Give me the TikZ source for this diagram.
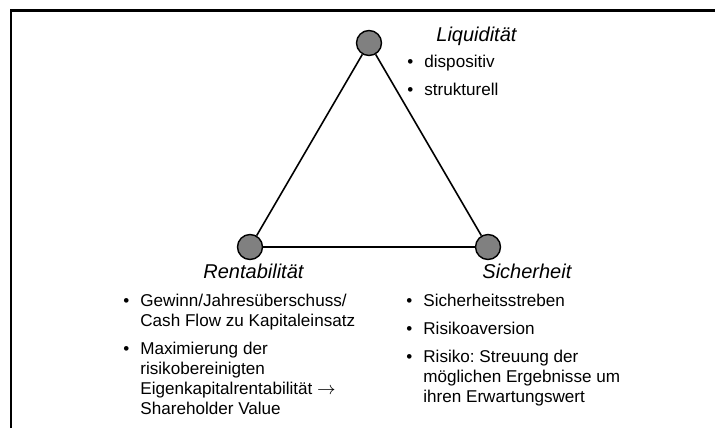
\documentclass[tikz,border=0pt]{standalone}
\usepackage{fontspec}
\setmainfont{Liberation Sans}
\usepackage{tikz}
\frenchspacing

\tikzset{
  corner/.style={circle, draw=black, fill=black!50, line width=0.7pt,
    minimum size=12.5pt, inner sep=0pt},
  side/.style={line width=0.8pt},
  heading/.style={font=\itshape, anchor=base west, inner sep=0pt},
  points/.style={anchor=base west, inner sep=0pt, align=left},
}

\begin{document}
\begin{tikzpicture}[x=0.5pt, y=-0.5pt, font=\fontsize{8.55pt}{10pt}\selectfont]
    \useasboundingbox (0,0) rectangle (715,428);

    % Frame (open to the right and bottom)
    \draw[line width=1.1pt] (11,428) -- (11,10.5) -- (715,10.5);

    % Triangle of goals
    \node[corner] (liq) at (369,43) {};
    \node[corner] (ren) at (250,247) {};
    \node[corner] (sich) at (488,247) {};
    \draw[side] (liq) -- (ren) -- (sich) -- (liq);

    % Headings
    \node[heading] (liqtitle) at (436,41) {Liquidität};
    \node[heading] (rentitle) at (203,278) {Rentabilität};
    \node[heading] (sichtitle) at (482,278) {Sicherheit};

    % Bullet lists
    \node[points] (liqlist) at (407,67) {\begin{tabular}[t]{@{}c@{\hspace{5.5pt}}l@{}}
        \textbullet & dispositiv\\[4pt]
        \textbullet & strukturell
    \end{tabular}};
    \node[points] (renlist) at (123,306) {\begin{tabular}[t]{@{}c@{\hspace{5.5pt}}l@{}}
        \textbullet & Gewinn/Jahresüberschuss/\\
                    & Cash Flow zu Kapitaleinsatz\\[4pt]
        \textbullet & Maximierung der\\
                    & risikobereinigten\\
                    & Eigenkapitalrentabilität $\rightarrow$\\
                    & Shareholder Value
    \end{tabular}};
    \node[points] (sichlist) at (406,306) {\begin{tabular}[t]{@{}c@{\hspace{5.5pt}}l@{}}
        \textbullet & Sicherheitsstreben\\[4pt]
        \textbullet & Risikoaversion\\[4pt]
        \textbullet & Risiko: Streuung der\\
                    & möglichen Ergebnisse um\\
                    & ihren Erwartungswert
    \end{tabular}};
\end{tikzpicture}
\end{document}
